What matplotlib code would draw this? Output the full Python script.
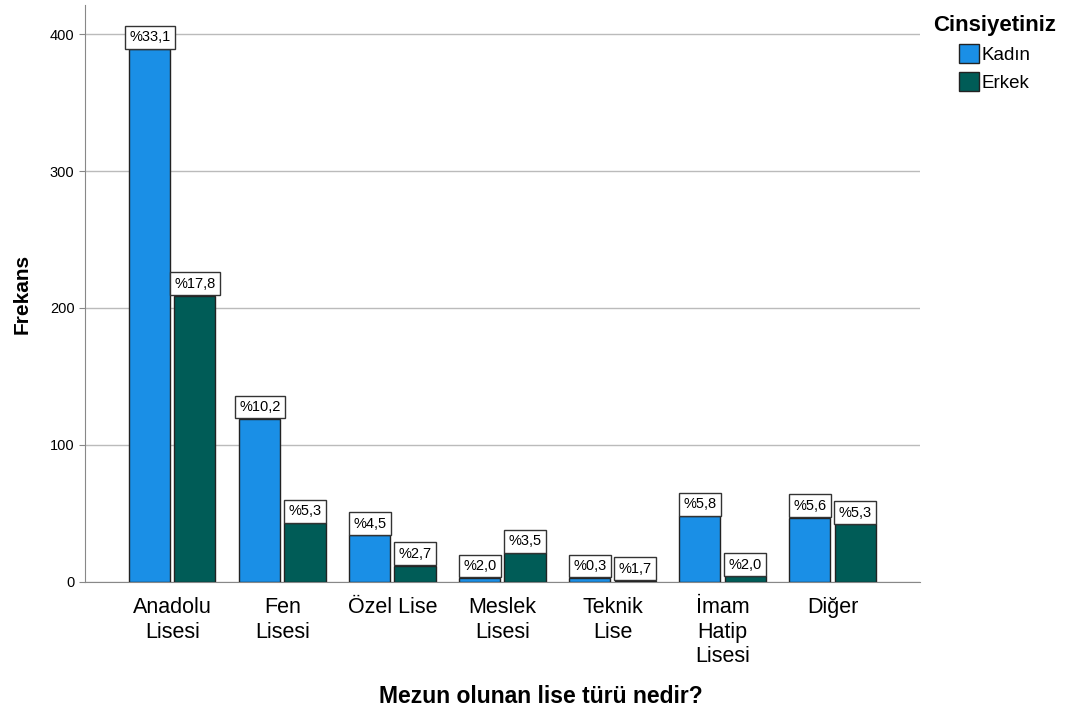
import numpy as np
from matplotlib import pyplot as plt

plt.rcParams['font.family'] = ['Liberation Sans', 'DejaVu Sans']

categories = ['Anadolu\nLisesi', 'Fen\nLisesi', 'Özel Lise', 'Meslek\nLisesi',
              'Teknik\nLise', 'İmam\nHatip\nLisesi', 'Diğer']
kadin = [389, 119, 34, 3, 3, 48, 47]
erkek = [209, 43, 12, 21, 1, 4, 42]
kadin_pct = ['%33,1', '%10,2', '%4,5', '%2,0', '%0,3', '%5,8', '%5,6']
erkek_pct = ['%17,8', '%5,3', '%2,7', '%3,5', '%1,7', '%2,0', '%5,3']

c_kadin = '#1a8fe6'
c_erkek = '#005c57'

fig = plt.figure(figsize=(10.66, 7.2), dpi=100)
ax = fig.add_axes([0.0797, 0.1917, 0.7833, 0.801])

x = np.arange(len(categories))
w = 0.373
off = 0.205
b1 = ax.bar(x - off, kadin, w, color=c_kadin, edgecolor='#222222', linewidth=1, label='Kadın', zorder=3)
b2 = ax.bar(x + off, erkek, w, color=c_erkek, edgecolor='#222222', linewidth=1, label='Erkek', zorder=3)

# percentage boxes sitting on top of bars
for bars, labels in [(b1, kadin_pct), (b2, erkek_pct)]:
    for rect, lab in zip(bars, labels):
        ax.annotate(lab, (rect.get_x() + rect.get_width() / 2, rect.get_height()),
                    xytext=(0, 3.5), textcoords='offset points', ha='center', va='bottom',
                    fontsize=10.5, zorder=5,
                    bbox=dict(boxstyle='square,pad=0.3', fc='white', ec='#333333', lw=1))

ax.set_xlim(-0.795, 6.795)
ax.set_ylim(0, 421)
ax.set_yticks([0, 100, 200, 300, 400])
ax.yaxis.grid(True, color='#bbbbbb', linewidth=1, zorder=0)
ax.set_axisbelow(True)
ax.set_xticks(x)
ax.set_xticklabels(categories, fontsize=15.5, linespacing=1.22)
ax.tick_params(axis='x', length=0, pad=11)
ax.tick_params(axis='y', labelsize=10.5, length=4, color='#888888')
for s in ['top', 'right']:
    ax.spines[s].set_visible(False)
for s in ['left', 'bottom']:
    ax.spines[s].set_color('#888888')

ax.set_ylabel('Frekans', fontsize=15, fontweight='bold', labelpad=13)
fig.text(0.5075, 0.032, 'Mezun olunan lise türü nedir?', ha='center', va='center',
         fontsize=16.5, fontweight='bold')

leg = fig.legend(handles=[b1, b2], loc='upper left', bbox_to_anchor=(0.863, 0.998),
                 title='Cinsiyetiniz', frameon=False, fontsize=13.5,
                 handlelength=1.1, handleheight=1.15, handletextpad=0.12,
                 labelspacing=0.45, alignment='center', borderpad=0.2)
leg.get_title().set_fontweight('bold')
leg.get_title().set_fontsize(16)

plt.savefig('out.png', dpi=100)
